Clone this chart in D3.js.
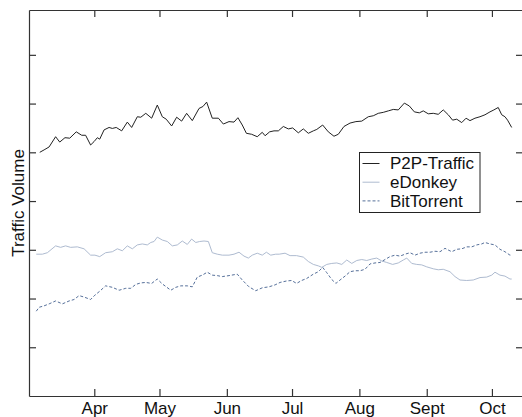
<!DOCTYPE html>
<html>
<head>
<meta charset="utf-8">
<script src="https://cdn.jsdelivr.net/npm/d3@7"></script>
<style>
  body { margin: 0; background: #fff; }
  svg { display: block; font-family: "Liberation Sans", Arial, sans-serif; }
</style>
</head>
<body>
<div id="chart"></div>
<script>
//---------------- data (days counted from 1 March) ----------------//
var p2pDays = [5.9,7.9,10.2,13.2,15.1,17.5,19.7,22.7,25.2,27.0,29.3,30.9,32.4,33.5,35.5,37.8,39.3,41.1,43.6,46.2,48.2,50.8,52.4,54.7,57.4,60.0,62.3,64.1,66.6,68.9,71.2,73.5,76.1,79.2,81.0,82.7,85.3,88.1,90.4,93.0,95.3,97.1,99.1,101.0,103.4,106.0,108.3,109.6,111.7,113.7,115.7,118.0,120.3,122.3,124.9,127.2,129.5,131.8,133.4,136.1,138.7,141.3,143.3,145.9,148.7,151.4,154.1,157.1,159.4,161.7,164.0,166.3,168.6,170.9,173.7,176.0,178.3,180.6,182.4,184.7,187.0,189.3,191.6,193.9,195.9,197.8,200.1,202.1,203.9,206.2,208.5,210.8,213.1,214.9,216.9,218.5,220.0,221.2,223.1];
var p2pValues = [5.00,5.05,5.11,5.32,5.21,5.30,5.29,5.42,5.35,5.35,5.15,5.22,5.30,5.27,5.46,5.51,5.49,5.51,5.44,5.62,5.51,5.73,5.72,5.80,5.70,5.97,5.73,5.68,5.54,5.72,5.64,5.80,5.65,5.90,5.94,6.03,5.70,5.70,5.58,5.63,5.62,5.71,5.56,5.39,5.37,5.32,5.41,5.34,5.42,5.44,5.44,5.53,5.48,5.50,5.40,5.48,5.39,5.44,5.47,5.56,5.42,5.33,5.37,5.53,5.60,5.63,5.64,5.73,5.75,5.80,5.82,5.85,5.88,5.87,6.01,5.95,5.83,5.81,5.85,5.79,5.80,5.78,5.87,5.77,5.66,5.68,5.61,5.70,5.65,5.70,5.73,5.77,5.83,5.87,5.92,5.77,5.73,5.66,5.51];

var edonkeyDays = [4.3,7.1,9.4,13.2,15.5,17.8,20.1,23.2,26.3,29.3,31.3,33.5,36.2,39.3,41.6,43.9,46.2,48.5,50.8,53.1,55.4,57.0,58.5,60.0,62.3,64.6,66.9,69.2,71.5,73.8,75.8,77.7,79.5,81.5,83.5,85.3,87.6,89.9,93.0,95.3,97.6,99.9,101.9,103.7,106.0,108.3,110.2,112.2,114.5,116.1,118.8,121.1,124.1,127.2,129.5,131.8,134.1,135.7,138.0,140.3,142.6,144.9,147.2,149.5,151.8,154.1,156.4,158.7,161.0,163.3,165.6,168.3,170.9,173.2,174.8,177.1,179.4,181.7,184.0,187.0,189.3,191.6,194.7,197.0,199.3,202.4,205.4,208.5,211.6,213.9,215.4,217.7,220.0,222.3,223.1];
var edonkeyValues = [2.91,2.91,2.94,3.08,3.05,3.08,3.05,3.06,3.02,2.89,2.89,2.86,2.94,2.96,3.02,2.98,3.08,3.02,3.10,3.12,3.10,3.15,3.17,3.26,3.20,3.17,3.08,3.10,3.18,3.11,3.22,3.15,3.17,3.18,3.17,2.94,2.91,2.89,2.89,2.91,2.95,2.87,2.83,2.89,2.93,2.89,2.95,2.89,2.91,2.91,2.93,2.88,2.88,2.85,2.76,2.70,2.67,2.64,2.70,2.72,2.73,2.70,2.79,2.72,2.78,2.80,2.78,2.81,2.83,2.77,2.74,2.70,2.73,2.79,2.83,2.72,2.70,2.69,2.65,2.61,2.59,2.60,2.55,2.45,2.38,2.37,2.38,2.43,2.44,2.48,2.54,2.48,2.46,2.40,2.40];

var bittorrentDays = [4.3,5.6,7.9,10.2,13.2,16.3,19.4,21.7,24.0,26.3,29.3,31.3,33.5,36.2,39.3,42.4,45.5,47.8,50.1,52.4,54.7,57.4,60.0,62.3,64.1,66.2,68.5,70.8,73.8,76.1,78.4,80.7,83.0,85.3,87.6,89.9,93.0,96.8,99.1,102.2,105.3,108.3,111.4,114.2,116.5,119.5,121.8,124.1,126.4,128.7,131.8,134.1,136.1,138.0,140.3,142.2,144.1,146.4,148.7,151.0,153.3,155.6,157.9,160.2,162.5,164.8,167.1,169.4,171.7,174.0,176.3,178.6,180.9,183.2,185.5,187.8,190.1,192.4,195.5,197.8,200.1,202.4,204.7,207.0,209.3,210.8,213.1,215.4,217.7,220.0,222.3,223.1];
var bittorrentValues = [1.74,1.82,1.85,1.89,1.95,1.89,1.95,1.98,2.06,2.03,1.98,2.07,2.15,2.26,2.23,2.17,2.21,2.21,2.29,2.32,2.33,2.31,2.40,2.30,2.24,2.17,2.23,2.26,2.26,2.24,2.44,2.48,2.54,2.48,2.47,2.45,2.47,2.50,2.38,2.24,2.16,2.22,2.24,2.28,2.33,2.36,2.37,2.31,2.37,2.41,2.50,2.55,2.64,2.53,2.39,2.31,2.38,2.46,2.55,2.57,2.57,2.60,2.71,2.73,2.74,2.80,2.86,2.89,2.87,2.91,2.94,2.89,2.93,2.95,2.95,2.97,2.96,3.03,2.96,3.01,3.02,3.06,3.06,3.10,3.12,3.15,3.12,3.10,3.01,2.96,2.89,2.89];

var monthLabels = ['Apr','May','Jun','Jul','Aug','Sept','Oct'];
var seriesNames = ['P2P-Traffic','eDonkey','BitTorrent'];
//------------------------------------------------------------------//

var width = 522, height = 417;
var plotLeft = 29, plotRight = 523, plotTop = 10, plotBottom = 396;

var svg = d3.select('#chart').append('svg')
            .attr('width', width)
            .attr('height', height);

var start = Date.UTC(2007, 2, 1);
function dayToDate(d){ return new Date(start + d * 864e5); }

//--------------scales---------------//
var x = d3.scaleUtc()
          .domain([dayToDate(0.95), dayToDate(228.3)])
          .range([plotLeft, plotRight]);
var y = d3.scaleLinear()
          .domain([0, 7.92])
          .range([plotBottom, plotTop]);

var monthTicks = d3.utcMonth.range(dayToDate(31), dayToDate(215));

//--------------axes (ticks pointing inwards, box round the plot)---------------//
var axisColor = '#333';
svg.append('g')
    .attr('transform', 'translate(0,' + plotBottom + ')')
    .call(d3.axisBottom(x).tickValues(monthTicks)
          .tickSizeInner(-7).tickSizeOuter(0).tickPadding(6)
          .tickFormat(function(d, i){ return monthLabels[i]; }));
svg.append('g')
    .attr('transform', 'translate(0,' + plotTop + ')')
    .call(d3.axisTop(x).tickValues(monthTicks)
          .tickSizeInner(-7).tickSizeOuter(0).tickFormat(''));
svg.append('g')
    .attr('transform', 'translate(' + plotLeft + ',0)')
    .call(d3.axisLeft(y).tickValues([1,2,3,4,5,6,7])
          .tickSizeInner(-7).tickSizeOuter(0).tickFormat(''));
svg.append('g')
    .attr('transform', 'translate(' + plotRight + ',0)')
    .call(d3.axisRight(y).tickValues([1,2,3,4,5,6,7])
          .tickSizeInner(-7).tickSizeOuter(0).tickFormat(''));

svg.selectAll('.domain, .tick line').attr('stroke', axisColor).attr('stroke-width', 1.2);
svg.selectAll('.tick text')
   .attr('fill', '#111')
   .style('font-size', '17px')
   .style('font-family', '"Liberation Sans", Arial, sans-serif');

svg.append('text')
   .attr('transform', 'translate(24,' + ((plotTop + plotBottom) / 2) + ') rotate(-90)')
   .attr('text-anchor', 'middle')
   .style('font-size', '17px')
   .attr('fill', '#111')
   .text('Traffic Volume');

//--------------lines---------------//
var series = [
  {name: seriesNames[0], days: p2pDays, values: p2pValues, color: '#222', dash: null},
  {name: seriesNames[1], days: edonkeyDays, values: edonkeyValues, color: '#aebbd0', dash: null},
  {name: seriesNames[2], days: bittorrentDays, values: bittorrentValues, color: '#56709a', dash: '3,2'}
];

var line = d3.line()
             .x(function(d){ return x(dayToDate(d[0])); })
             .y(function(d){ return y(d[1]); });

series.forEach(function(s){
  svg.append('path')
     .datum(d3.zip(s.days, s.values))
     .attr('fill', 'none')
     .attr('stroke', s.color)
     .attr('stroke-width', 1)
     .attr('stroke-dasharray', s.dash)
     .attr('d', line);
});

//--------------legend---------------//
var legend = svg.append('g').attr('transform', 'translate(359.5,152.5)');
legend.append('rect')
      .attr('width', 120.5).attr('height', 60)
      .attr('fill', '#fff').attr('stroke', '#222').attr('stroke-width', 1);

series.forEach(function(s, i){
  var ly = 11 + i * 18.7;
  legend.append('line')
        .attr('x1', 3).attr('x2', 20).attr('y1', ly).attr('y2', ly)
        .attr('stroke', s.color).attr('stroke-width', 1)
        .attr('stroke-dasharray', s.dash);
  legend.append('text')
        .attr('x', 30.5).attr('y', ly).attr('dy', '0.35em')
        .style('font-size', '17px')
        .attr('fill', '#111')
        .text(s.name);
});
</script>
</body>
</html>
